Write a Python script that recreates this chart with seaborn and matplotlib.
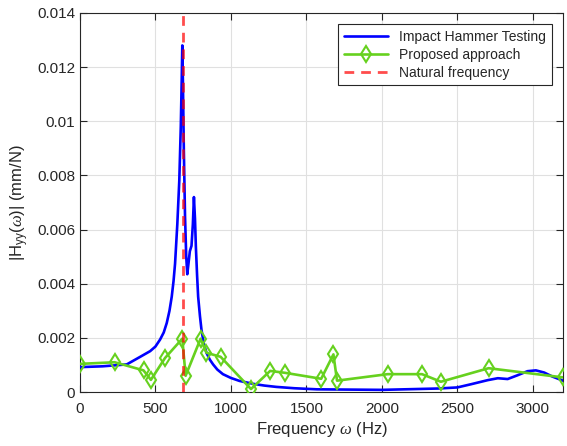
import matplotlib
matplotlib.use("Agg")
import matplotlib.pyplot as plt
import seaborn as sns
import pandas as pd

# Impact hammer FRF
ham_freq = [0, 150, 310, 399, 465, 500, 531, 555, 575, 593, 608, 620, 630, 645, 658, 668,
            674, 678, 682, 688, 696, 704, 711, 720, 728, 739, 748, 755, 762, 768, 776, 783,
            795, 805, 820, 838, 860, 882, 910, 947, 1000, 1057, 1150, 1220, 1300, 1420,
            1570, 2000, 2373, 2500, 2592, 2702, 2768, 2833, 2899, 2965, 3020, 3075, 3130,
            3200]
ham_mag = [0.00092, 0.00095, 0.00102, 0.00130, 0.00151, 0.00168, 0.00194, 0.00220, 0.00255,
           0.00300, 0.00352, 0.00410, 0.00474, 0.0062, 0.0078, 0.0098, 0.0115, 0.0128,
           0.0115, 0.0090, 0.0065, 0.0050, 0.00435, 0.0048, 0.0052, 0.0054, 0.0062, 0.0072,
           0.0064, 0.00535, 0.0043, 0.00352, 0.0028, 0.0023, 0.00180, 0.00145, 0.00120,
           0.00102, 0.00083, 0.00066, 0.00052, 0.00041, 0.00030, 0.00024, 0.00019,
           0.00014, 0.00010, 0.00008, 0.00013, 0.00017, 0.00029, 0.00044, 0.00051,
           0.00048, 0.00062, 0.00077, 0.00080, 0.00072, 0.00057, 0.00042]

# Proposed approach
prop_freq = [0, 230, 421, 470, 564, 678, 700, 799, 838, 932, 1133, 1260, 1358, 1598,
             1679, 1703, 2038, 2266, 2391, 2707, 3200]
prop_mag = [0.00104, 0.0011, 0.00080, 0.00045, 0.00126, 0.00197, 0.00060, 0.00197, 0.00145,
            0.00130, 0.00011, 0.00078, 0.00071, 0.00049, 0.00139, 0.00042, 0.00066,
            0.00066, 0.00038, 0.00088, 0.00054]

natural_freq = 680

sns.set_style("ticks")
plt.rcParams['font.family'] = ['Liberation Sans', 'DejaVu Sans']
plt.rcParams['mathtext.fontset'] = 'custom'
plt.rcParams['mathtext.rm'] = 'Liberation Sans'
plt.rcParams['mathtext.it'] = 'Liberation Serif:italic'

fig = plt.figure(figsize=(5.67, 4.46), dpi=100)
ax = fig.add_axes([0.141, 0.121, 0.852, 0.850])

df_h = pd.DataFrame({"f": ham_freq, "m": ham_mag})
df_p = pd.DataFrame({"f": prop_freq, "m": prop_mag})

green = "#66d11e"
sns.lineplot(data=df_h, x="f", y="m", ax=ax, color="#0000ff", lw=1.9,
             label="Impact Hammer Testing", sort=False, zorder=3)
sns.lineplot(data=df_p, x="f", y="m", ax=ax, color=green, lw=1.9,
             marker="d", markersize=8.5, markerfacecolor="none",
             markeredgecolor=green, markeredgewidth=1.5,
             label="Proposed approach", sort=False, zorder=4)
ax.axvline(natural_freq, color="red", alpha=0.7, lw=2, ls=(0, (3.5, 2.5)),
           label="Natural frequency", zorder=5)

ax.set_xlim(0, 3200)
ax.set_ylim(0, 0.014)
ax.set_xticks([0, 500, 1000, 1500, 2000, 2500, 3000])
ax.set_yticks([0, 0.002, 0.004, 0.006, 0.008, 0.01, 0.012, 0.014])
ax.set_yticklabels(["0", "0.002", "0.004", "0.006", "0.008", "0.01", "0.012", "0.014"])
ax.grid(True, color="#e0e0e0", lw=0.8)
ax.set_axisbelow(True)
ax.tick_params(direction="in", top=True, right=True, labelsize=11, colors="#262626",
               length=5, width=0.8)
ax.tick_params(axis="x", pad=7)
for s in ax.spines.values():
    s.set_color("#262626")
    s.set_linewidth(0.8)

ax.set_xlabel(r"Frequency $\omega$ (Hz)", fontsize=12, color="#262626", labelpad=3)
ax.set_ylabel(r"|H$_{\rm yy}$($\omega$)| (mm/N)", fontsize=12, color="#262626")

leg = ax.legend(loc="upper right", fontsize=10, frameon=True, fancybox=False,
                edgecolor="#262626", framealpha=1, handlelength=3.2,
                borderaxespad=0.8, labelspacing=0.3)
leg.get_frame().set_linewidth(0.8)

fig.savefig("out.png", dpi=100)
